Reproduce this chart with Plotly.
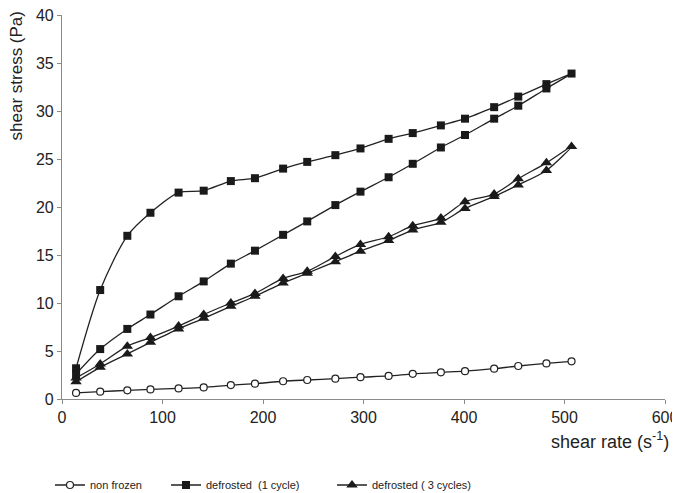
import plotly.graph_objects as go

# shear rate (s-1)
shear_rate = [14, 38, 65, 88, 116, 141, 168, 192, 220, 244, 272, 297, 325, 349, 377, 401, 430, 454, 482, 507]

non_frozen = [0.63, 0.76, 0.90, 1.00, 1.10, 1.21, 1.45, 1.60, 1.85, 1.98, 2.12, 2.27, 2.40, 2.62, 2.78, 2.90, 3.16, 3.44, 3.71, 3.92]

defrost1_branch_a = [3.2, 11.35, 17.0, 19.4, 21.5, 21.7, 22.7, 23.0, 24.0, 24.7, 25.4, 26.1, 27.1, 27.7, 28.5, 29.2, 30.4, 31.5, 32.8, 33.9]
defrost1_branch_b = [2.6, 5.2, 7.3, 8.8, 10.7, 12.25, 14.1, 15.45, 17.1, 18.5, 20.2, 21.6, 23.1, 24.5, 26.2, 27.5, 29.2, 30.55, 32.35, 33.9]

defrost3_branch_a = [2.2, 3.65, 5.5, 6.4, 7.6, 8.8, 10.0, 11.0, 12.56, 13.3, 14.85, 16.1, 16.9, 18.05, 18.85, 20.55, 21.35, 22.95, 24.6, 26.3]
defrost3_branch_b = [1.8, 3.3, 4.7, 5.9, 7.3, 8.4, 9.65, 10.7, 12.08, 13.1, 14.3, 15.4, 16.5, 17.6, 18.4, 19.85, 21.1, 22.3, 23.8, 26.3]

series_names = ["non frozen", "defrosted  (1 cycle)", "defrosted ( 3 cycles)"]
x_ticks = [0, 100, 200, 300, 400, 500, 600]
y_ticks = [0, 5, 10, 15, 20, 25, 30, 35, 40]

FONT = "Liberation Sans, Arial, sans-serif"
LINE = "#222222"
AXIS = "#8a8a8a"
W, H = 680, 493  # page adds an 8px body margin


def loop(a, b):
    xs = shear_rate + shear_rate[::-1][1:]
    ys = a + b[::-1][1:]
    return xs, ys


fig = go.Figure()

fig.add_trace(go.Scatter(
    x=shear_rate, y=non_frozen, name=series_names[0], mode="lines+markers",
    line=dict(color=LINE, width=1.3, shape="spline", smoothing=0.8),
    marker=dict(symbol="circle", size=7, color="white", line=dict(color=LINE, width=1.2)),
    legend="legend",
))

x1, y1 = loop(defrost1_branch_a, defrost1_branch_b)
fig.add_trace(go.Scatter(
    x=x1, y=y1, name=series_names[1], mode="lines+markers",
    line=dict(color=LINE, width=1.3, shape="spline", smoothing=0.8),
    marker=dict(symbol="square", size=8, color="#1a1a1a"),
    legend="legend2",
))

x3, y3 = loop(defrost3_branch_a, defrost3_branch_b)
fig.add_trace(go.Scatter(
    x=x3, y=y3, name=series_names[2], mode="lines+markers",
    line=dict(color=LINE, width=1.3, shape="spline", smoothing=0.8),
    marker=dict(symbol="triangle-up", size=10, color="#1a1a1a"),
    legend="legend3",
))

leg_common = dict(orientation="h", yref="container", xref="container", yanchor="middle",
                  y=1 - 477 / H, xanchor="left",
                  font=dict(family=FONT, size=11, color="#222"), bgcolor="rgba(0,0,0,0)",
                  itemwidth=30)

fig.update_layout(
    width=W, height=H,
    margin=dict(l=54, r=23, t=7, b=H - 391.3, autoexpand=False),
    paper_bgcolor="white", plot_bgcolor="white",
    font=dict(family=FONT, size=15, color="#222"),
    showlegend=True,
    legend=dict(x=42 / W, **leg_common),
    legend2=dict(x=158 / W, **leg_common),
    legend3=dict(x=324 / W, **leg_common),
    xaxis=dict(range=[0, 600], tickvals=x_ticks, showgrid=False, zeroline=False,
               showline=True, linecolor=AXIS, linewidth=1.2, automargin=False,
               ticks="outside", ticklen=4, tickcolor=AXIS, ticklabeloverflow="allow",
               tickfont=dict(family=FONT, size=16, color="#222")),
    yaxis=dict(range=[0, 40], tickvals=y_ticks, showgrid=False, zeroline=False,
               showline=True, linecolor=AXIS, linewidth=1.2, automargin=False,
               ticks="outside", ticklen=4, tickcolor=AXIS, ticklabeloverflow="allow",
               tickfont=dict(family=FONT, size=16, color="#222")),
    annotations=[
        dict(text="shear rate (s<sup>-1</sup>)", xref="paper", yref="paper",
             x=1.01, y=-0.109, xanchor="right", yanchor="middle", showarrow=False,
             font=dict(family=FONT, size=18, color="#222")),
        dict(text="shear stress (Pa)", xref="paper", yref="paper", textangle=-90,
             x=-0.075, y=0.842, xanchor="center", yanchor="middle", showarrow=False,
             font=dict(family=FONT, size=17, color="#222")),
    ],
)

fig.write_html("out.html")
